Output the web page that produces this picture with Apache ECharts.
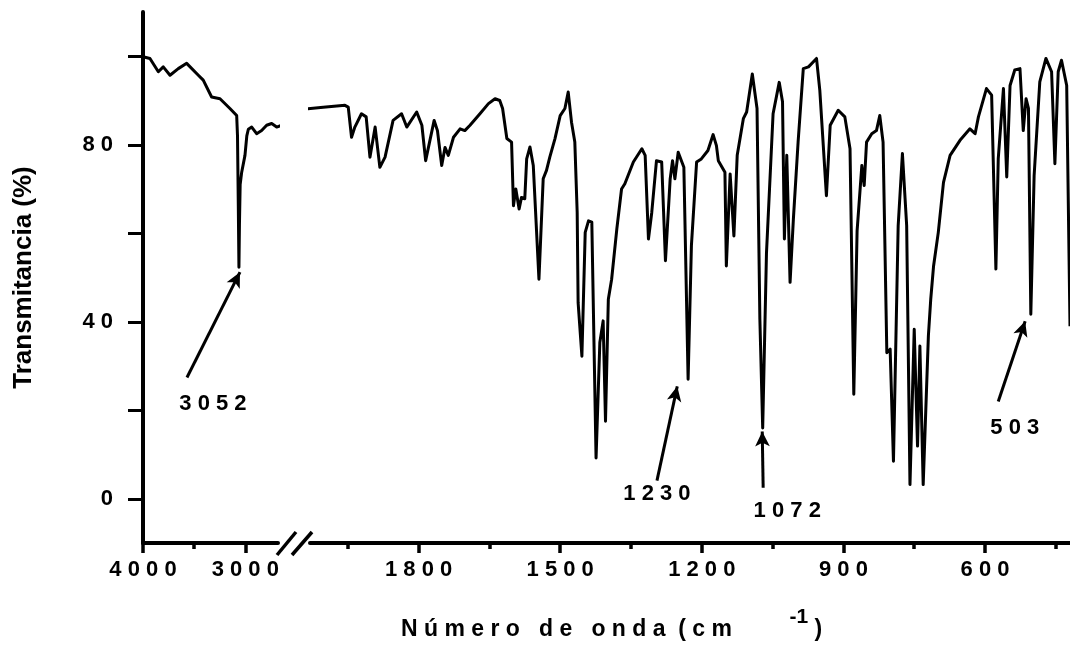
<!DOCTYPE html>
<html>
<head>
<meta charset="utf-8">
<title>Espectro IR</title>
<script src="https://cdn.jsdelivr.net/npm/echarts@6/dist/echarts.min.js"></script>
<style>
    html, body { margin: 0; padding: 0; background: #fff; }
    #chart { width: 1070px; height: 646px; }
</style>
</head>
<body>
<div id="chart"></div>
<script>
// tramo 4000 - 2600 cm-1
const leftWavenumber = [4000, 3932, 3850, 3802, 3736, 3655, 3573, 3459, 3411, 3329, 3247, 3150, 3084, 3076,
    3068, 3062, 3057, 3050, 3035, 3003, 2985, 2970, 2937, 2889, 2840, 2791, 2742, 2693, 2644, 2612];
const leftTransmittance = [99.9, 99.5, 96.5, 97.6, 95.7, 97.2, 98.4, 95.7, 94.6, 90.8, 90.4, 88.2, 86.6, 82,
    66, 52.3, 62, 71, 73.8, 77.6, 82, 83.5, 84, 82.5, 83.2, 84.4, 84.8, 84, 84.4, 83.2];

// tramo 2050 - 420 cm-1
const rightWavenumber = [2047, 2002, 1956, 1949, 1942, 1935, 1921, 1911, 1903, 1892, 1882, 1871, 1854, 1836,
    1825, 1804, 1793, 1785, 1767, 1760, 1751, 1744, 1737, 1726, 1712, 1702, 1691, 1670, 1652, 1638, 1628, 1622,
    1613, 1603, 1599, 1594, 1587, 1582, 1575, 1571, 1564, 1557, 1545, 1536, 1529, 1522, 1511, 1500, 1490, 1483,
    1476, 1469, 1464, 1462, 1454, 1447, 1440, 1433, 1424, 1416, 1409, 1404, 1398, 1391, 1380, 1370, 1363, 1345,
    1327, 1320, 1313, 1306, 1296, 1285, 1277, 1267, 1262, 1257, 1250, 1238, 1229, 1222, 1211, 1201, 1187, 1176,
    1169, 1165, 1151, 1148, 1140, 1132, 1125, 1112, 1105, 1093, 1083, 1077, 1071, 1063, 1049, 1036, 1029, 1025,
    1020, 1013, 1006, 996, 985, 974, 957, 950, 936, 928, 911, 897, 886, 878, 871, 861, 856, 851, 840, 830, 823,
    816, 808, 801, 794, 784, 775, 766, 759, 750, 743, 738, 731, 720, 715, 709, 699, 688, 674, 653, 632, 621, 614,
    597, 586, 577, 572, 561, 554, 547, 537, 526, 519, 513, 508, 503, 496, 484, 471, 459, 452, 445, 438, 427, 420];
const rightTransmittance = [88.0, 88.5, 88.9, 88.5, 81.7, 84.0, 87.0, 86.3, 77.2, 84.0, 74.9, 77.2, 85.5, 87.0,
    84.0, 87.4, 84.4, 76.4, 85.5, 83.2, 75.3, 79.4, 77.6, 81.7, 83.6, 83.2, 84.4, 87.0, 89.3, 90.4, 90.0, 88.2,
    81.4, 80.6, 66.2, 70.0, 65.5, 68.1, 67.8, 76.8, 79.5, 75.3, 49.6, 72.3, 74.2, 77.2, 81.4, 86.6, 88.2, 91.9,
    85.1, 80.6, 64.7, 44.3, 32.2, 60.2, 62.8, 62.5, 9.2, 35.3, 40.2, 17.5, 45.1, 49.6, 61.0, 70.0, 71.2, 76.1,
    79.1, 77.6, 58.7, 64.7, 76.4, 76.1, 53.8, 72.3, 76.4, 72.3, 78.3, 74.9, 27.0, 57.2, 76.1, 76.8, 78.7, 82.3,
    79.8, 76.4, 73.8, 52.6, 73.4, 59.4, 77.6, 85.9, 87.4, 96.0, 88.2, 40.6, 16.0, 55.5, 87.0, 94.1, 89.7, 58.7,
    77.6, 48.9, 63.2, 80.6, 97.2, 97.6, 99.5, 92.3, 68.5, 84.4, 87.8, 86.3, 79.1, 23.6, 60.6, 75.3, 70.8, 80.6, 82.5, 83.2, 86.6,
    80.6, 33.0, 33.8, 8.5, 61.7, 78.0, 61.7, 3.2, 38.3, 11.9, 34.5, 3.2, 36.8, 45.1, 52.6, 60.2, 71.5, 77.6, 81.0, 83.6, 82.5, 86.3,
    92.7, 91.2, 51.9, 76.8, 92.7, 72.7, 93.4, 96.9, 97.2, 83.2, 90.4, 88.2, 41.7, 73.0, 94.2, 99.5, 96.5, 75.7, 96.5, 99.1, 93.4, 39];

const leftMajorTicks = [4000, 3000];
const leftMinorTicks = [3500];
const rightMajorTicks = [1800, 1500, 1200, 900, 600];
const rightMinorTicks = [1950, 1650, 1350, 1050, 750, 450];
const yTicks = [0, 20, 40, 60, 80, 100];
const yLabels = [0, 40, 80];

// picos señalados: [texto, cola x, cola y, punta x, punta y, texto x, texto y]
const leftPeaks = [['3052', 3570, 27.4, 3052, 51.2, 3316, 21.5]];
const rightPeaks = [
    ['1230', 1295, 4.1, 1252, 25.4, 1295, 1.1],
    ['1072', 1070, 2.5, 1072, 15.2, 1019, -2.7],
    ['503', 572, 22.0, 515, 40.1, 537, 15.9]
];

const FONT = 'Liberation Sans, Arial, sans-serif';
const spaced = (v) => String(v).split('').join(' ');
const zip = (xs, ys) => xs.map((x, i) => [x, ys[i]]);

const labelStyle = { color: '#000', fontFamily: FONT, fontWeight: 'bold', fontSize: 22 };

function mainXAxis(gridIndex, min, max, major) {
    return {
        type: 'value', gridIndex, min, max, inverse: true, position: 'bottom',
        splitLine: { show: false },
        axisLine: { onZero: false, lineStyle: { color: '#000', width: 4 } },
        axisTick: { customValues: major, length: 10, lineStyle: { color: '#000', width: 3.5 } },
        axisLabel: { customValues: major, margin: 16, formatter: spaced, ...labelStyle }
    };
}

function minorXAxis(gridIndex, min, max, minor) {
    return {
        type: 'value', gridIndex, min, max, inverse: true, position: 'bottom', offset: 0,
        splitLine: { show: false },
        axisLine: { show: false, onZero: false },
        axisTick: { customValues: minor, length: 6, lineStyle: { color: '#000', width: 3.5 } },
        axisLabel: { show: false }
    };
}

function annotations(peaks) {
    return {
        markLine: {
            silent: true,
            symbol: ['none', 'arrow'],
            symbolSize: [11, 15],
            label: { show: false },
            lineStyle: { color: '#000', width: 3, type: 'solid' },
            data: peaks.map(p => [{ coord: [p[1], p[2]] }, { coord: [p[3], p[4]] }])
        },
        markPoint: {
            silent: true,
            symbol: 'circle',
            symbolSize: 0,
            label: { show: true, position: 'inside', ...labelStyle, formatter: (d) => spaced(d.name) },
            data: peaks.map(p => ({ name: p[0], coord: [p[5], p[6]] }))
        }
    };
}

const chart = echarts.init(document.getElementById('chart'));

chart.setOption({
    animation: false,
    backgroundColor: '#fff',
    title: {
        left: 401,
        top: 607,
        padding: 0,
        text: 'N ú m e r o   d e   o n d a  ( c m         {sup|-1} )',
        textStyle: {
            color: '#000', fontFamily: FONT, fontWeight: 'bold', fontSize: 23, lineHeight: 46,
            rich: { sup: { color: '#000', fontFamily: FONT, fontWeight: 'bold', fontSize: 21, lineHeight: 20, verticalAlign: 'top' } }
        }
    },
    grid: [
        { left: 143, top: 12, width: 135, height: 531 },
        { left: 310, top: 12, width: 760, height: 531 }
    ],
    xAxis: [
        mainXAxis(0, 2680, 4000, leftMajorTicks),
        mainXAxis(1, 420, 2030, rightMajorTicks),
        minorXAxis(0, 2680, 4000, leftMinorTicks),
        minorXAxis(1, 420, 2030, rightMinorTicks)
    ],
    yAxis: [
        {
            type: 'value', gridIndex: 0, min: -10, max: 110,
            name: 'Transmitancia (%)', nameLocation: 'middle', nameRotate: 90, nameGap: 106,
            nameTextStyle: { color: '#000', fontFamily: FONT, fontWeight: 'bold', fontSize: 26 },
            splitLine: { show: false },
            axisLine: { lineStyle: { color: '#000', width: 4 } },
            axisTick: { customValues: yTicks, length: 15, lineStyle: { color: '#000', width: 3 } },
            axisLabel: { customValues: yLabels, margin: 30, formatter: spaced, ...labelStyle }
        },
        { type: 'value', gridIndex: 1, min: -10, max: 110, show: false }
    ],
    graphic: [
        // marcas de corte del eje
        { type: 'line', shape: { x1: 277, y1: 555, x2: 296, y2: 532 }, style: { stroke: '#000', lineWidth: 3.5 } },
        { type: 'line', shape: { x1: 292, y1: 555, x2: 312, y2: 532 }, style: { stroke: '#000', lineWidth: 3.5 } }
    ],
    series: [
        {
            type: 'line', xAxisIndex: 0, yAxisIndex: 0,
            data: zip(leftWavenumber, leftTransmittance),
            showSymbol: false, clip: false, silent: true,
            lineStyle: { color: '#000', width: 3, join: 'round' },
            ...annotations(leftPeaks)
        },
        {
            type: 'line', xAxisIndex: 1, yAxisIndex: 1,
            data: zip(rightWavenumber, rightTransmittance),
            showSymbol: false, clip: false, silent: true,
            lineStyle: { color: '#000', width: 3, join: 'round' },
            ...annotations(rightPeaks)
        }
    ]
});
</script>
</body>
</html>
